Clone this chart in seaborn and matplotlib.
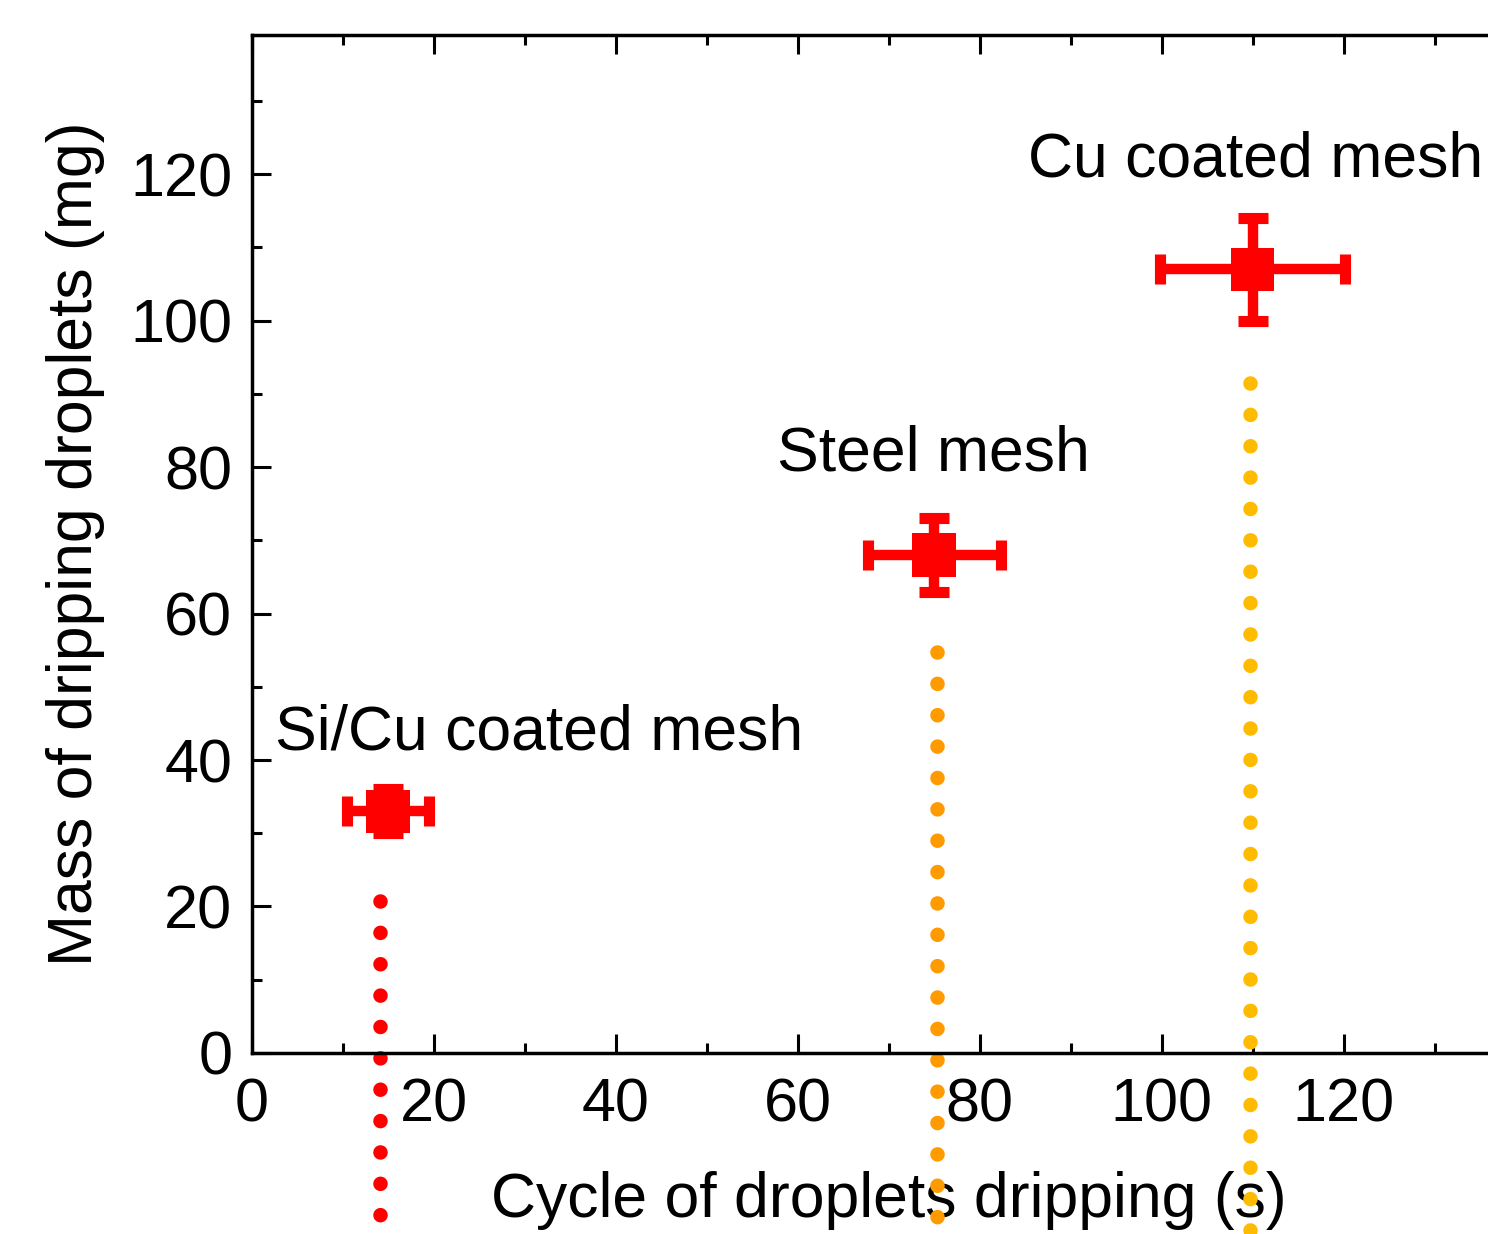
import numpy as np
import pandas as pd
import matplotlib
matplotlib.use('Agg')
import matplotlib.pyplot as plt
from matplotlib.ticker import MultipleLocator, FixedFormatter
import seaborn as sns

sns.set_style("ticks")
plt.rcParams['font.family'] = ['Liberation Sans', 'DejaVu Sans']
plt.rcParams['text.color'] = 'black'
plt.rcParams['axes.labelcolor'] = 'black'
plt.rcParams['xtick.color'] = 'black'
plt.rcParams['ytick.color'] = 'black'

# data
labels = ['Si/Cu coated mesh', 'Steel mesh', 'Cu coated mesh']
cycle = [15, 75, 110]
cycle_err = [4.5, 7.3, 10.2]
mass = [33, 68, 107]
mass_err = [3, 5, 7]

# dotted guide lines (x, top y)
guide_x = [14.1, 75.3, 109.7]
guide_top = [20.8, 54.7, 91.5]
guide_colors = ['#ff0000', '#ff9a00', '#ffbb00']

label_x = [2.6, 57.7, 85.3]
label_y = [41.5, 79.5, 119.7]

xticks = [0, 20, 40, 60, 80, 100, 120]

df = pd.DataFrame({'cycle': cycle, 'mass': mass, 'label': labels})

fig = plt.figure(figsize=(14.88, 12.34), dpi=100)
ax = fig.add_axes([0.1691, 0.1467, 0.8562, 0.825])

# dotted lines (run past the figure bottom)
for gx, gt, gc in zip(guide_x, guide_top, guide_colors):
    ax.plot([gx, gx], [gt, -40], color=gc, lw=10.5,
            linestyle=(0, (0.001, 2.15)), dash_capstyle='round',
            clip_on=False, zorder=1)

ax.errorbar(cycle, mass, xerr=cycle_err, yerr=mass_err, fmt='none',
            ecolor='#ff0000', elinewidth=7.5, capsize=10.5, capthick=8,
            zorder=2)
sns.scatterplot(data=df, x='cycle', y='mass', marker='s', s=980,
                color='#ff0000', edgecolor='none', linewidth=0, ax=ax,
                zorder=3, legend=False)

for lx, ly, lab in zip(label_x, label_y, labels):
    ax.text(lx, ly, lab, fontsize=45, ha='left', va='baseline')

ax.set_xlim(0, 140)
ax.set_ylim(0, 139)
ax.set_xticks(xticks)
ax.xaxis.set_minor_locator(MultipleLocator(10))
ax.yaxis.set_major_locator(MultipleLocator(20))
ax.yaxis.set_minor_locator(MultipleLocator(10))
ax.tick_params(which='both', direction='in', top=True, right=True,
               width=2.2, labelsize=44)
ax.tick_params(which='major', length=14)
ax.tick_params(which='minor', length=7)
ax.tick_params(axis='x', which='major', pad=18)
ax.tick_params(axis='y', which='major', pad=14)
for sp in ax.spines.values():
    sp.set_linewidth(2.5)
    sp.set_color('black')

ax.set_xlabel('Cycle of droplets dripping (s)', fontsize=45, labelpad=26)
ax.set_ylabel('Mass of dripping droplets (mg)', fontsize=45, labelpad=18)

fig.savefig('out.png', dpi=100, facecolor='white')
